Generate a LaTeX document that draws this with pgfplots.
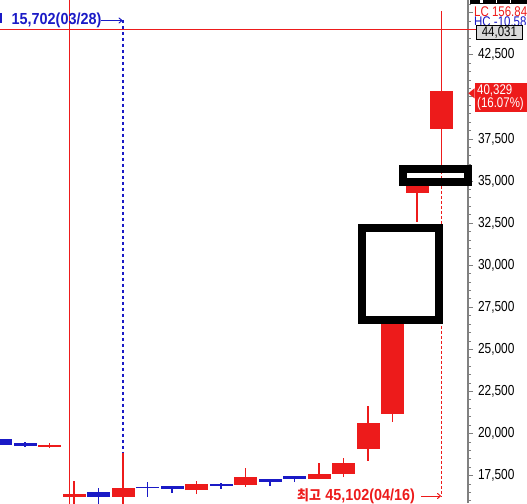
\documentclass[border=0pt]{standalone}
\usepackage{pgfplots}
\pgfplotsset{compat=1.18}
\usepackage{pgfplotstable}
\usetikzlibrary{arrows.meta}
\usepackage{fontspec}
\setmainfont{Liberation Sans}
\newfontfamily\lab{Liberation Sans}[FakeStretch=0.82]
\newfontfamily\blab{Liberation Sans}[FakeStretch=0.9]
\newfontfamily\kr{Noto Sans CJK KR}[FakeStretch=0.92]
\definecolor{cr}{RGB}{237,27,27}
\definecolor{cb}{RGB}{26,26,198}
\definecolor{axg}{RGB}{128,128,128}

% x = candle index, o h l c
\pgfplotstableread{
x o h l c
2 19223 19442 19145 19282
3 16250 17180 15800 16420
5 16250 18830 15702 16770
8 16650 17185 16410 17025
10 16970 17960 16830 17420
13 17300 18250 17300 17620
14 17600 18550 17420 18250
15 19080 21640 18390 20630
16 21180 26800 20710 26800
17 34310 35000 32590 35000
18 38110 45102 35900 40329
}\redtab
\pgfplotstableread{
x o h l c
0 19680 19680 19324 19324
1 19460 19502 19205 19264
4 16530 16790 15800 16250
6 16760 17130 16250 16740
7 16890 16890 16490 16710
9 17025 17085 16710 16890
11 17300 17300 16890 17140
12 17480 17480 17120 17320
}\bluetab

\begin{document}
\begin{tikzpicture}[x=1pt,y=1pt]
\useasboundingbox (0,0) rectangle (527,503);
\clip (0,0) rectangle (527,503);
\begin{axis}[
  at={(0,0)}, anchor=south west,
  scale only axis, width=468pt, height=503pt,
  xmin=-0.0204, xmax=19.08, ymin=15878, ymax=45757,
  clip=false,
  hide x axis,
  axis y line*=right,
  y axis line style={draw=axg, line width=1.2pt, -},
  ytick={17500,20000,22500,25000,27500,30000,32500,35000,37500,42500},
  extra y ticks={40000,45000}, extra y tick labels={},
  minor ytick={16000,16500,...,45500},
  tick align=outside,
  major tick length=5pt, minor tick length=3pt,
  every tick/.style={draw=axg, line width=0.9pt},
  scaled y ticks=false,
  /pgf/number format/assume math mode=true,
  /pgf/number format/1000 sep={,},
  yticklabel style={font=\lab\fontsize{14.5}{14.5}\selectfont, anchor=west, text=black, xshift=1.5pt},
]
% crosshair
\draw[draw=cr, line width=1.5pt] (axis cs:-0.1,44000) -- (axis cs:19.4,44000);
\draw[draw=cr, line width=1.5pt] (axis cs:2.808,15000) -- (axis cs:2.808,46500);
% min / max marker lines
\draw[draw=cb, line width=1.3pt, dash pattern=on 3pt off 3pt] (axis cs:5,44569) -- (axis cs:5,18830);
\draw[draw=cr, line width=1.3pt, dash pattern=on 3pt off 2pt] (axis cs:18,35900) -- (axis cs:18,16235);
% wicks
\addplot[draw=none, mark=none, forget plot,
  error bars/.cd, y dir=plus, y explicit, error mark=none,
  error bar style={draw=cr, line width=1.5pt}]
  table[x=x, y=l, y error plus expr=\thisrow{h}-\thisrow{l}] \redtab;
\addplot[draw=none, mark=none, forget plot,
  error bars/.cd, y dir=plus, y explicit, error mark=none,
  error bar style={draw=cb, line width=1.5pt}]
  table[x=x, y=l, y error plus expr=\thisrow{h}-\thisrow{l}] \bluetab;
% bodies
\addplot[draw=none, mark=none, forget plot,
  error bars/.cd, y dir=plus, y explicit, error mark=none,
  error bar style={draw=cr, line width=23pt}]
  table[x=x, y expr={min(\thisrow{o},\thisrow{c})}, y error plus expr={max(abs(\thisrow{c}-\thisrow{o}),80)}] \redtab;
\addplot[draw=none, mark=none, forget plot,
  error bars/.cd, y dir=plus, y explicit, error mark=none,
  error bar style={draw=cb, line width=23pt}]
  table[x=x, y expr={min(\thisrow{o},\thisrow{c})}, y error plus expr={max(abs(\thisrow{c}-\thisrow{o}),80)}] \bluetab;
\coordinate (bigA) at (axis cs:14.755,32213);
\coordinate (bigB) at (axis cs:17.898,26766);
\coordinate (smA) at (axis cs:16.43,35718);
\coordinate (smB) at (axis cs:19.08,34975);
\end{axis}
% highlight boxes
\draw[black, line width=8pt] (bigA) rectangle (bigB);
\draw[black, line width=8pt] (smA) rectangle (smB);
% top-left min label
\fill[cb] (0,480) rectangle (1.5,490);
\node[anchor=base west, inner sep=0, text=cb, font=\blab\bfseries\fontsize{16}{16}\selectfont] at (11.5,478) {15,702(03/28)};
\draw[cb, line width=1pt, -{To[length=4pt,width=6pt]}] (101,482.5) -- (122.5,482.5);
% bottom max label
\node[anchor=base west, inner sep=0, text=cr, font=\fontsize{16}{16}\selectfont] at (297,2.5) {{\kr\bfseries\fontsize{14}{14}\selectfont 최고} {\blab\bfseries 45,102(04/16)}};
\draw[cr, line width=1pt, -{To[length=4pt,width=6pt]}] (421,7) -- (441,7);
% header on right
\fill[black] (470,499) rectangle (527,503);
\fill[white] (480,499.5) rectangle (483,502.5);
\fill[white] (496,499.5) rectangle (497,503);
\fill[white] (510,499.5) rectangle (511,503);
\node[anchor=north west, inner sep=0, text=cr, font=\lab\fontsize{14}{14}\selectfont] at (474,496) {LC 156.84};
\begin{scope}
\clip (470,478) rectangle (527,490);
\node[anchor=north west, inner sep=0, text=cb, font=\lab\fontsize{14}{14}\selectfont] at (474,486) {HC -10.58};
\end{scope}
\node[anchor=north west, draw=black, fill=gray!30, line width=0.8pt, inner sep=0, minimum width=46pt, minimum height=14pt, text=black, font=\lab\fontsize{14}{14}\selectfont] at (476,478) {44,031};
% current price label
\fill[cr] (468.3,409.7) -- (474.5,414.7) -- (474.5,404.7) -- cycle;
\fill[cr] (475,391) rectangle (527,419.5);
\node[anchor=north west, inner sep=0, text=white, font=\lab\fontsize{14}{14}\selectfont, align=left] at (477,418) {40,329\\[-1.5pt](16.07\%)};
\end{tikzpicture}
\end{document}
